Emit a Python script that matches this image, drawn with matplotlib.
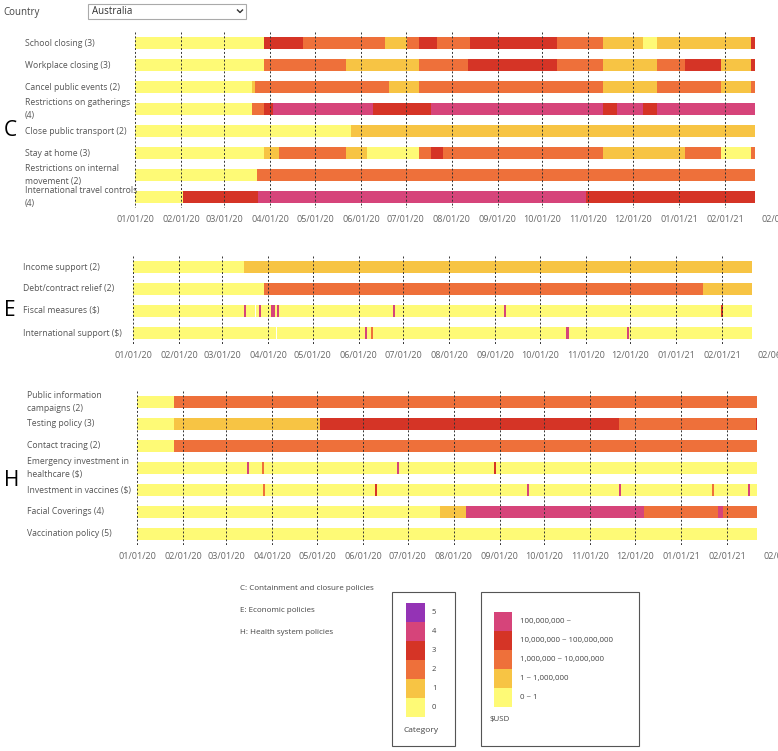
# Australia - policy timeline (C / E / H)

import pandas as pd
import matplotlib
matplotlib.use('Agg')
import matplotlib.pyplot as plt
import matplotlib.dates as mdates
from matplotlib.patches import Rectangle
from matplotlib.transforms import blended_transform_factory

plt.rcParams['font.family'] = ['Open Sans', 'DejaVu Sans']

# データ
start_date = '2020-01-01'
end_date = '2021-02-21'
tick_dates = pd.date_range('2020-01-01', '2021-02-01', freq='MS')
last_tick_label = '02/06/21'

level_colors = ['#FEFA76', '#F7C444', '#EE703A', '#D53426', '#D6447A', '#9433B5']

# C: Containment and closure
c_labels = ['School closing (3)', 'Workplace closing (3)', 'Cancel public events (2)',
            'Restrictions on gatherings\n(4)', 'Close public transport (2)', 'Stay at home (3)',
            'Restrictions on internal\nmovement (2)', 'International travel controls\n(4)']
c_dates = [
    ['2020-01-01', '2020-03-28', '2020-04-23', '2020-06-17', '2020-07-02', '2020-07-10', '2020-07-22',
     '2020-08-13', '2020-10-11', '2020-11-11', '2020-12-08', '2020-12-17', '2021-02-18'],
    ['2020-01-01', '2020-03-28', '2020-05-22', '2020-07-10', '2020-08-12', '2020-10-11', '2020-11-11',
     '2020-12-17', '2021-01-05', '2021-01-29', '2021-02-18'],
    ['2020-01-01', '2020-03-20', '2020-03-22', '2020-06-20', '2020-07-10', '2020-11-11', '2020-12-17',
     '2021-01-29', '2021-02-18'],
    ['2020-01-01', '2020-03-20', '2020-03-28', '2020-04-03', '2020-06-09', '2020-07-18', '2020-11-11',
     '2020-11-20', '2020-12-08', '2020-12-17'],
    ['2020-01-01', '2020-05-25'],
    ['2020-01-01', '2020-03-28', '2020-04-07', '2020-05-22', '2020-06-05', '2020-07-10', '2020-07-18',
     '2020-07-26', '2020-11-11', '2021-01-05', '2021-01-29', '2021-02-18'],
    ['2020-01-01', '2020-03-23'],
    ['2020-01-01', '2020-02-02', '2020-03-24', '2020-10-30'],
]
c_levels = [
    [0, 3, 2, 1, 2, 3, 2, 3, 2, 1, 0, 1, 3],
    [0, 2, 1, 2, 3, 2, 1, 2, 3, 1, 3],
    [0, 1, 2, 1, 2, 1, 2, 1, 2],
    [0, 2, 3, 4, 3, 4, 3, 4, 3, 4],
    [0, 1],
    [0, 1, 2, 1, 0, 2, 3, 2, 1, 2, 0, 2],
    [0, 2],
    [0, 3, 4, 3],
]

# E: Economic
e_labels = ['Income support (2)', 'Debt/contract relief (2)', 'Fiscal measures ($)',
            'International support ($)']
e_dates = [['2020-01-01', '2020-03-16'], ['2020-01-01', '2020-03-29', '2021-01-19'],
           ['2020-01-01'], ['2020-01-01']]
e_levels = [[0, 1], [0, 2, 1], [0], [0]]
e_event_dates = [[], [],
                 ['2020-03-16', '2020-03-26', '2020-04-03', '2020-04-04', '2020-04-07',
                  '2020-06-24', '2020-09-07', '2021-01-31'],
                 ['2020-06-05', '2020-06-09', '2020-10-19', '2020-11-29']]
e_event_levels = [[], [], [4, 4, 4, 4, 4, 4, 4, 3], [4, 2, 4, 4]]
e_gap_dates = [[], [], ['2020-03-23'], ['2020-04-06']]

# H: Health system
h_labels = ['Public information\ncampaigns (2)', 'Testing policy (3)', 'Contact tracing (2)',
            'Emergency investment in\nhealthcare ($)', 'Investment in vaccines ($)',
            'Facial Coverings (4)', 'Vaccination policy (5)']
h_dates = [['2020-01-01', '2020-01-26'],
           ['2020-01-01', '2020-01-26', '2020-05-03', '2020-11-20', '2021-02-20'],
           ['2020-01-01', '2020-01-26'],
           ['2020-01-01'],
           ['2020-01-01'],
           ['2020-01-01', '2020-07-23', '2020-08-09', '2020-12-07', '2021-01-26', '2021-01-29'],
           ['2020-01-01']]
h_levels = [[0, 2], [0, 1, 3, 2, 3], [0, 2], [0], [0], [0, 1, 4, 2, 4, 2], [0]]
h_event_dates = [[], [], [],
                 ['2020-03-15', '2020-03-25', '2020-06-24', '2020-08-28'],
                 ['2020-03-26', '2020-06-09', '2020-09-19', '2020-11-20', '2021-01-22', '2021-02-15'],
                 [], []]
h_event_levels = [[], [], [], [4, 2, 4, 3], [2, 3, 4, 4, 2, 4], [], []]
h_gap_dates = [[], [], [], [], [], [], []]

# 凡例
group_notes = ['C: Containment and closure policies', 'E: Economic policies',
               'H: Health system policies']
cat_levels = [5, 4, 3, 2, 1, 0]
usd_levels = [4, 3, 2, 1, 0]
usd_labels = ['100,000,000 ~', '10,000,000 ~ 100,000,000', '1,000,000 ~ 10,000,000',
              '1 ~ 1,000,000', '0 ~ 1']

W, H = 778, 751
fig = plt.figure(figsize=(W / 100, H / 100), dpi=100)

# 背景 (pixel coords)
bg = fig.add_axes([0, 0, 1, 1])
bg.set_xlim(0, W)
bg.set_ylim(H, 0)
bg.axis('off')

text_gray = '#555555'


def to_num(d):
    return mdates.date2num(pd.to_datetime(d))


def draw_panel(box, letter, letter_y, labels, dates, levels,
               ev_dates=None, ev_levels=None, gaps=None, label_x=25):
    left, top, right, bottom = box
    ax = fig.add_axes([left / W, 1 - bottom / H, (right - left) / W, (bottom - top) / H])
    ax.set_facecolor('none')
    n = len(labels)
    x0, x1 = to_num(start_date), to_num(end_date)
    for i in range(n):
        d = [to_num(v) for v in dates[i]] + [x1]
        for k, lv in enumerate(levels[i]):
            ax.barh(i, d[k + 1] - d[k], left=d[k], height=0.55,
                    color=level_colors[lv], zorder=1)
        if ev_dates is not None:
            for dd, lv in zip(ev_dates[i], ev_levels[i]):
                ax.barh(i, 1.4, left=to_num(dd), height=0.55,
                        color=level_colors[lv], zorder=2)
            for dd in gaps[i]:
                ax.barh(i, 1.0, left=to_num(dd), height=0.55, color='white', zorder=2)
    ticks = [to_num(t) for t in tick_dates]
    ax.vlines(ticks, -0.5, n - 0.5, colors='#333333', linestyles=(0, (2, 2)),
              linewidth=0.7, zorder=3)
    ax.set_xlim(x0, x1)
    ax.set_ylim(n - 0.5, -0.5)
    ax.set_xticks(ticks)
    ax.set_xticklabels([t.strftime('%m/%d/%y') for t in tick_dates])
    ax.tick_params(axis='x', length=0, pad=5, labelsize=6.5, labelcolor='#666666')
    ax.set_yticks([])
    for s in ax.spines.values():
        s.set_visible(False)
    # 右端のラベル (元図でも切れている)
    ax.text(1 + 6 / (right - left), -7 / (bottom - top), last_tick_label,
            transform=ax.transAxes, ha='left', va='top', fontsize=6.5,
            color='#666666', clip_on=False)
    tr = blended_transform_factory(fig.transFigure, ax.transData)
    for i, lab in enumerate(labels):
        ax.text(label_x / W, i, lab, transform=tr, ha='left', va='center',
                fontsize=6.2, color=text_gray, linespacing=1.65)
    bg.text(4, letter_y, letter, fontsize=15, color='black', ha='left', va='center')
    return ax


draw_panel((135, 32, 755, 208), 'C', 131, c_labels, c_dates, c_levels, label_x=25)
draw_panel((133, 256, 752, 344), 'E', 311, e_labels, e_dates, e_levels,
           e_event_dates, e_event_levels, e_gap_dates, label_x=23)
draw_panel((137, 391, 757, 545), 'H', 480, h_labels, h_dates, h_levels,
           h_event_dates, h_event_levels, h_gap_dates, label_x=27)

# 国選択
bg.text(3, 12, 'Country', fontsize=7, color='#444444', va='center')
bg.add_patch(Rectangle((88, 4), 158, 15, facecolor='white', edgecolor='#aaaaaa', lw=0.8))
bg.text(92, 11.5, 'Australia', fontsize=7, color='#333333', va='center')
bg.plot([237.5, 240, 242.5], [10, 12.5, 10], color='#333333', lw=1)

# 凡例
for j, note in enumerate(group_notes):
    bg.text(240, 588 + 22.5 * j, note, fontsize=5.8, color='#444444', va='center')

bg.add_patch(Rectangle((392, 592), 63, 154, fill=False, edgecolor='#555555', lw=0.8))
for j, lv in enumerate(cat_levels):
    bg.add_patch(Rectangle((406, 603 + 19 * j), 19, 19, color=level_colors[lv], lw=0))
    bg.text(432, 612.5 + 19 * j, str(lv), fontsize=5.5, color='#444444', va='center')
bg.text(421, 731, 'Category', fontsize=6, color='#444444', ha='center', va='center')

bg.add_patch(Rectangle((481, 592), 158, 154, fill=False, edgecolor='#555555', lw=0.8))
for j, (lv, lab) in enumerate(zip(usd_levels, usd_labels)):
    bg.add_patch(Rectangle((494, 612 + 19 * j), 18, 19, color=level_colors[lv], lw=0))
    bg.text(520, 621.5 + 19 * j, lab, fontsize=5.7, color='#444444', va='center')
bg.text(490, 720, '$USD', fontsize=5.7, color='#444444', va='center')

plt.savefig('out.png', dpi=100)
